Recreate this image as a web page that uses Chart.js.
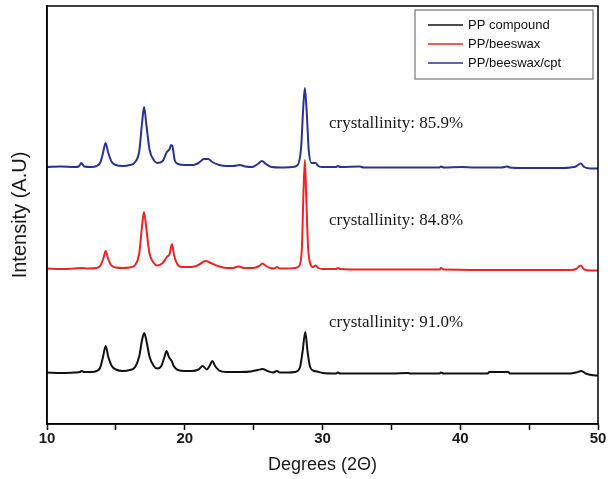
<!DOCTYPE html>
<html>
<head>
<meta charset="utf-8">
<script src="https://cdn.jsdelivr.net/npm/chart.js@4.4.1/dist/chart.umd.min.js"></script>
<style>
  body { margin: 0; background: #fff; }
  canvas { display: block; }
</style>
</head>
<body>
<canvas id="xrdChart" width="610" height="479"></canvas>
<script>
// XRD patterns, [2theta, intensity] (curves are stacked, arbitrary units)
const ppCompound = [
    [10, 51.5], [11, 51], [12, 51.5], [12.4, 52], [12.5, 53], [12.7, 52], [13.2, 52], [13.6, 53],
    [13.85, 56], [14.05, 66], [14.26, 78], [14.45, 67], [14.7, 58], [15, 54.5], [15.5, 53], [16, 54],
    [16.4, 57], [16.7, 68], [16.9, 84], [17.06, 91], [17.22, 83], [17.45, 67], [17.75, 58], [18, 55.5],
    [18.3, 58], [18.5, 66], [18.68, 73], [18.85, 67], [19.05, 63], [19.2, 58], [19.5, 54], [20, 53],
    [20.5, 53], [21, 54.5], [21.3, 58], [21.6, 54.5], [21.8, 58], [22, 63], [22.2, 58], [22.5, 53.5],
    [23, 52], [24, 52], [24.8, 52.5], [25.3, 54], [25.65, 55], [26, 53], [26.4, 51.5], [26.7, 53],
    [26.9, 51.5], [27.5, 51.5], [28, 52], [28.35, 56], [28.55, 72], [28.75, 92], [28.92, 72], [29.1, 57],
    [29.4, 53], [29.6, 52.5], [30, 51], [31, 50.5], [31.1, 51.5], [31.3, 50.5], [33, 50.5], [35, 50.5],
    [36.2, 51], [36.4, 50.5], [38.5, 50.5], [38.6, 51.5], [38.8, 50.5], [42, 50.5], [42.1, 52], [43.5, 52],
    [43.6, 50.5], [48, 50.5], [48.4, 51.5], [48.8, 53], [49.1, 50.5], [49.5, 49], [50, 48.5]
];
const ppBeeswax = [
    [10, 155.5], [11, 155], [12, 155.5], [12.5, 156], [13, 155.5], [13.6, 156], [13.9, 159], [14.1, 166],
    [14.26, 173], [14.42, 166], [14.65, 159], [15, 156.5], [15.5, 156], [16, 156.5], [16.4, 159], [16.7, 171],
    [16.9, 198], [17.04, 212], [17.2, 197], [17.42, 172], [17.75, 161], [18, 158.5], [18.4, 161], [18.7, 167],
    [18.9, 170], [19.07, 180], [19.22, 169], [19.45, 160], [19.8, 157], [20.5, 157], [21, 159], [21.5, 163],
    [21.9, 161], [22.4, 158], [23, 156], [23.5, 156], [23.9, 157.5], [24.3, 156], [25, 156], [25.4, 158],
    [25.65, 160.5], [25.9, 158], [26.2, 156], [26.5, 155.5], [26.7, 157], [26.9, 155.5], [27.5, 155.5], [28, 156],
    [28.3, 158], [28.5, 175], [28.62, 232], [28.72, 264], [28.82, 227], [28.95, 177], [29.1, 161], [29.3, 157],
    [29.5, 158.5], [29.7, 156], [30, 155], [31, 155], [31.1, 156], [31.3, 155], [33, 154.5], [38.5, 154.5],
    [38.6, 156], [38.8, 154.5], [44, 154], [48, 154], [48.4, 155], [48.75, 158.5], [49, 154.5], [49.5, 153.5],
    [50, 153.5]
];
const ppBeeswaxCpt = [
    [10, 257], [11, 257.5], [12, 257], [12.3, 257.5], [12.5, 261], [12.7, 257.5], [13.2, 257], [13.6, 258],
    [13.85, 261], [14.05, 270], [14.25, 281], [14.45, 271], [14.7, 262], [15, 259], [15.5, 258], [16, 259],
    [16.4, 262], [16.7, 273], [16.9, 301], [17.05, 317], [17.2, 301], [17.45, 274], [17.75, 264], [18, 261],
    [18.4, 263], [18.7, 272], [18.9, 275], [19, 279], [19.1, 278], [19.27, 264], [19.5, 260], [20, 259],
    [20.6, 259], [21, 261], [21.4, 265], [21.7, 265], [22, 262], [22.5, 259], [23, 258], [23.5, 258],
    [24, 259], [24.4, 257.5], [24.9, 257], [25.3, 260], [25.6, 263], [25.9, 260], [26.3, 257], [27, 256.5],
    [27.8, 257], [28.2, 259], [28.45, 277], [28.6, 316], [28.72, 336], [28.85, 313], [29, 274], [29.2, 261],
    [29.5, 261], [29.7, 258], [30, 257], [31, 257], [31.1, 258], [31.3, 257], [32.7, 257.5], [33, 256.5],
    [35, 256.5], [38.5, 256.5], [38.6, 257.5], [38.8, 256.5], [40.1, 257], [41, 256.5], [43, 256.5], [43.4, 257.5],
    [43.6, 256.5], [44.5, 256], [47.5, 256], [48, 256.5], [48.4, 257.5], [48.75, 260.5], [49, 257], [49.5, 255.5],
    [50, 255.5]
];

const seriesNames = ['PP compound', 'PP/beeswax', 'PP/beeswax/cpt'];
const seriesColors = ['#111111', '#ec2428', '#2b3390'];

const xTicks = [10, 20, 30, 40, 50];

// crystallinity notes: text, 2theta, intensity
const noteTexts = ['crystallinity: 91.0%', 'crystallinity: 84.8%', 'crystallinity: 85.9%'];
const noteX = [30.47, 30.47, 30.47];
const noteY = [101, 203, 300];

const frame = {
    id: 'frame',
    afterDraw(chart) {
        const {ctx, chartArea: a} = chart;
        ctx.save();
        ctx.strokeStyle = '#000';
        ctx.lineWidth = 1.5;
        ctx.strokeRect(a.left, a.top, a.right - a.left, a.bottom - a.top);
        ctx.restore();
    }
};

const notes = {
    id: 'notes',
    afterDatasetsDraw(chart) {
        const ctx = chart.ctx;
        const xs = chart.scales.x, ys = chart.scales.y;
        ctx.save();
        ctx.font = '17px "Liberation Serif", "Times New Roman", serif';
        ctx.fillStyle = '#1a1a1a';
        ctx.textAlign = 'left';
        ctx.textBaseline = 'middle';
        noteTexts.forEach((t, i) => {
            ctx.fillText(t, xs.getPixelForValue(noteX[i]), ys.getPixelForValue(noteY[i]));
        });
        ctx.restore();
    }
};

// boxed legend in the top right corner of the plot
const boxLegend = {
    id: 'boxLegend',
    afterDraw(chart) {
        const {ctx, chartArea: a} = chart;
        const w = 178, h = 69;
        const left = a.right - 5 - w, top = a.top + 4;
        ctx.save();
        ctx.fillStyle = '#fff';
        ctx.fillRect(left, top, w, h);
        ctx.strokeStyle = '#777';
        ctx.lineWidth = 1.2;
        ctx.strokeRect(left, top, w, h);
        ctx.font = '13px "Liberation Sans", Arial, sans-serif';
        ctx.textBaseline = 'middle';
        ctx.textAlign = 'left';
        seriesNames.forEach((name, i) => {
            const y = top + 15 + i * 19;
            ctx.strokeStyle = seriesColors[i];
            ctx.lineWidth = 1.5;
            ctx.beginPath();
            ctx.moveTo(left + 13, y);
            ctx.lineTo(left + 48, y);
            ctx.stroke();
            ctx.fillStyle = '#111';
            ctx.fillText(name, left + 53, y);
        });
        ctx.restore();
    }
};

const allSeries = [ppCompound, ppBeeswax, ppBeeswaxCpt];

new Chart(document.getElementById('xrdChart'), {
    type: 'line',
    data: {
        datasets: allSeries.map((pts, i) => ({
            label: seriesNames[i],
            data: pts.map(p => ({x: p[0], y: p[1]})),
            borderColor: seriesColors[i],
            borderWidth: 2,
            pointRadius: 0,
            cubicInterpolationMode: 'monotone',
            order: 2 - i
        }))
    },
    options: {
        responsive: false,
        animation: false,
        events: [],
        layout: {
            padding: {left: 4, right: 12, top: 6, bottom: 0}
        },
        plugins: {
            legend: {display: false},
            tooltip: {enabled: false}
        },
        scales: {
            x: {
                type: 'linear',
                min: 10,
                max: 50,
                border: {color: '#000', width: 1.5},
                grid: {
                    drawOnChartArea: false,
                    drawTicks: true,
                    tickLength: 6,
                    tickColor: '#000',
                    tickWidth: 1.5
                },
                ticks: {
                    stepSize: 5,
                    maxRotation: 0,
                    padding: 1,
                    color: '#1a1a1a',
                    font: {family: '"Liberation Sans", Arial, sans-serif', size: 15, weight: 'bold', lineHeight: 1},
                    callback: (v) => xTicks.includes(v) ? String(v) : ''
                },
                title: {
                    display: true,
                    text: 'Degrees (2Θ)',
                    color: '#1a1a1a',
                    padding: {top: 4, bottom: 3},
                    font: {family: '"Liberation Sans", Arial, sans-serif', size: 18}
                },
                afterFit(scale) { scale.height = 55; }
            },
            y: {
                min: 0,
                max: 418,
                border: {color: '#000', width: 1.5},
                grid: {drawOnChartArea: false, drawTicks: false},
                ticks: {display: false},
                title: {
                    display: true,
                    text: 'Intensity (A.U)',
                    color: '#1a1a1a',
                    padding: {top: 4, bottom: 4},
                    font: {family: '"Liberation Sans", Arial, sans-serif', size: 20}
                },
                afterFit(scale) { scale.width = 43; }
            }
        }
    },
    plugins: [frame, notes, boxLegend]
});
</script>
</body>
</html>
